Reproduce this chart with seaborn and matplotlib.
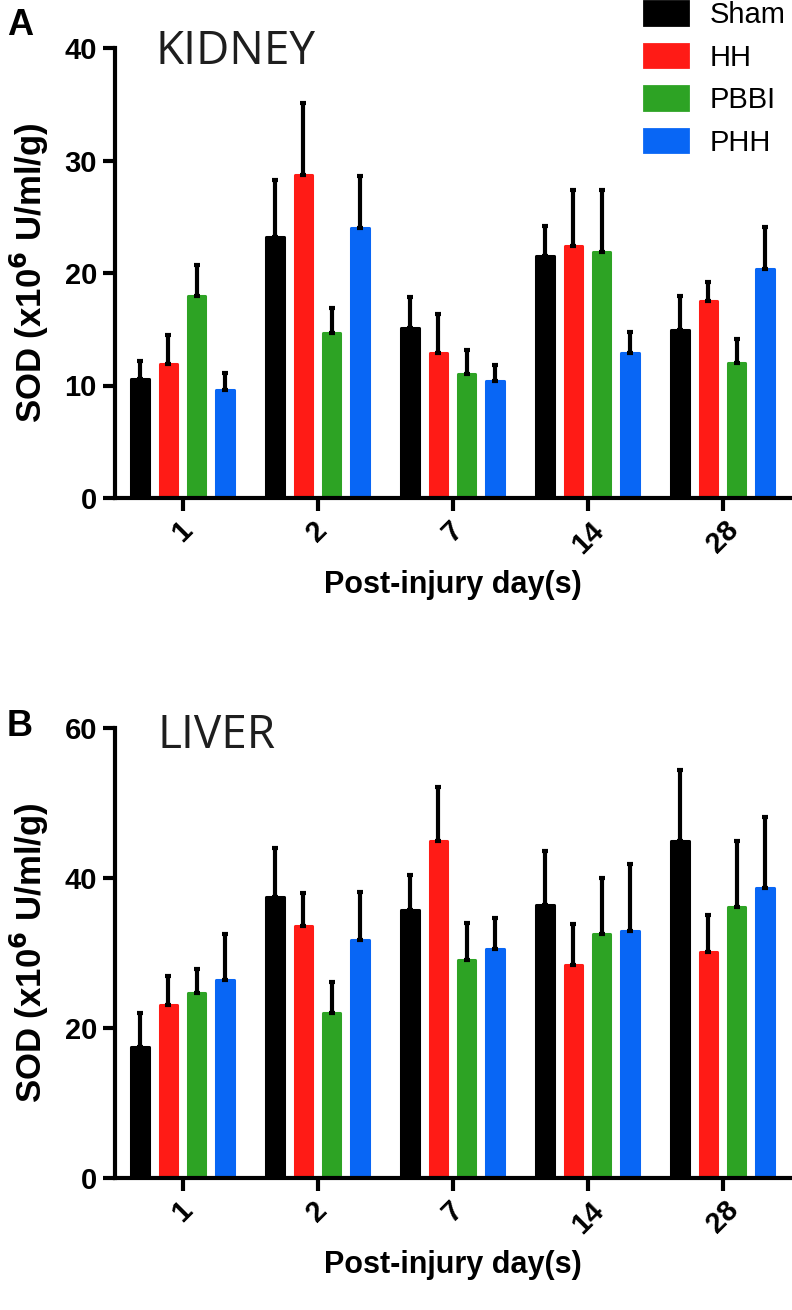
import numpy as np
import pandas as pd
import matplotlib
matplotlib.use("Agg")
import matplotlib.pyplot as plt
from matplotlib.patches import Patch
import seaborn as sns

days = ["1", "2", "7", "14", "28"]
groups = ["Sham", "HH", "PBBI", "PHH"]
colors = ["#000000", "#FF1B16", "#2DA324", "#0866F5"]

kidney_sham = [10.6, 23.2, 15.1, 21.5, 14.9]
kidney_hh = [11.9, 28.7, 12.9, 22.4, 17.5]
kidney_pbbi = [18.0, 14.7, 11.0, 21.9, 12.0]
kidney_phh = [9.6, 24.0, 10.4, 12.9, 20.4]
kidney_sham_err = [1.6, 5.1, 2.8, 2.7, 3.1]
kidney_hh_err = [2.6, 6.4, 3.5, 5.0, 1.7]
kidney_pbbi_err = [2.7, 2.2, 2.2, 5.5, 2.1]
kidney_phh_err = [1.5, 4.6, 1.4, 1.9, 3.7]

liver_sham = [17.5, 37.5, 35.8, 36.4, 44.9]
liver_hh = [23.1, 33.6, 45.0, 28.4, 30.1]
liver_pbbi = [24.7, 22.0, 29.1, 32.6, 36.2]
liver_phh = [26.4, 31.8, 30.5, 33.0, 38.7]
liver_sham_err = [4.5, 6.5, 4.6, 7.2, 9.5]
liver_hh_err = [3.8, 4.4, 7.2, 5.5, 5.0]
liver_pbbi_err = [3.2, 4.1, 4.9, 7.4, 8.8]
liver_phh_err = [6.1, 6.4, 4.2, 8.9, 9.4]

kidney_ticks = [0, 10, 20, 30, 40]
liver_ticks = [0, 20, 40, 60]

sns.set_theme(style="ticks")
plt.rcParams["font.family"] = ["Liberation Sans", "DejaVu Sans"]
plt.rcParams["text.color"] = "black"
plt.rcParams["axes.labelcolor"] = "black"
plt.rcParams["xtick.color"] = "black"
plt.rcParams["ytick.color"] = "black"

W, H = 792, 1310
fig = plt.figure(figsize=(W / 100, H / 100), dpi=100)


def panel(rect, means, errs, ticks, title, title_xy, letter, letter_xy):
    ax = fig.add_axes(rect)
    rows = []
    for g, vals in zip(groups, means):
        for d, v in zip(days, vals):
            rows.append({"day": d, "group": g, "value": v})
    df = pd.DataFrame(rows)
    sns.barplot(data=df, x="day", y="value", hue="group", order=days,
                hue_order=groups, palette=colors, width=0.84, gap=0.38,
                errorbar=None, legend=False, ax=ax, linewidth=2.2,
                saturation=1)
    for cont, c in zip(ax.containers, colors):
        for b in cont:
            b.set_edgecolor(c)
            b.set_joinstyle("round")
    for cont, err in zip(ax.containers, errs):
        xs = [b.get_x() + b.get_width() / 2 for b in cont]
        ys = [b.get_height() for b in cont]
        ax.errorbar(xs, ys, yerr=[np.zeros(len(err)), err], fmt="none",
                    ecolor="black", elinewidth=3, capsize=2.5, capthick=3,
                    zorder=1)
    ax.set_xlim(-0.5, 4.5)
    ax.set_ylim(ticks[0], ticks[-1])
    ax.set_yticks(ticks)
    ax.set_yticklabels([str(t) for t in ticks], fontsize=21, fontweight="bold")
    ax.set_xticks(range(len(days)))
    ax.set_xticklabels(days, fontsize=21, fontweight="bold", rotation=45,
                       ha="center")
    ax.tick_params(axis="both", width=3, length=9, color="black", pad=4)
    for s in ["left", "bottom"]:
        ax.spines[s].set_linewidth(3)
        ax.spines[s].set_color("black")
    sns.despine(ax=ax)
    ax.set_xlabel("Post-injury day(s)", fontsize=22, fontweight="bold",
                  labelpad=8)
    ax.set_ylabel(r"SOD (x10$^{\mathbf{6}}$ U/ml/g)", fontsize=25,
                  fontweight="bold", labelpad=10)
    fig.text(title_xy[0] / W, 1 - title_xy[1] / H, title, fontsize=33,
             family=["Open Sans", "DejaVu Sans"], color="#1e1e1e",
             va="baseline", ha="left")
    fig.text(letter_xy[0] / W, 1 - letter_xy[1] / H, letter, fontsize=26,
             fontweight="bold", va="top", ha="left")
    return ax


axA = panel([115 / W, 1 - 498 / H, 675 / W, 450 / H],
            [kidney_sham, kidney_hh, kidney_pbbi, kidney_phh],
            [kidney_sham_err, kidney_hh_err, kidney_pbbi_err, kidney_phh_err],
            kidney_ticks, "KIDNEY", (156, 64), "A", (7, 8))
axB = panel([115 / W, 1 - 1178 / H, 675 / W, 450 / H],
            [liver_sham, liver_hh, liver_pbbi, liver_phh],
            [liver_sham_err, liver_hh_err, liver_pbbi_err, liver_phh_err],
            liver_ticks, "LIVER", (158, 748), "B", (7, 709))

handles = [Patch(facecolor=c, edgecolor=c, label=g, joinstyle="round",
                 linewidth=2) for g, c in zip(groups, colors)]
fig.legend(handles=handles, loc="upper left",
           bbox_to_anchor=(644 / W, 1 - 1 / H), frameon=False,
           fontsize=21, handlelength=1.5, handleheight=0.85,
           handletextpad=0.75, labelspacing=0.5, borderpad=0,
           borderaxespad=0)

fig.savefig("out.png", dpi=100)
